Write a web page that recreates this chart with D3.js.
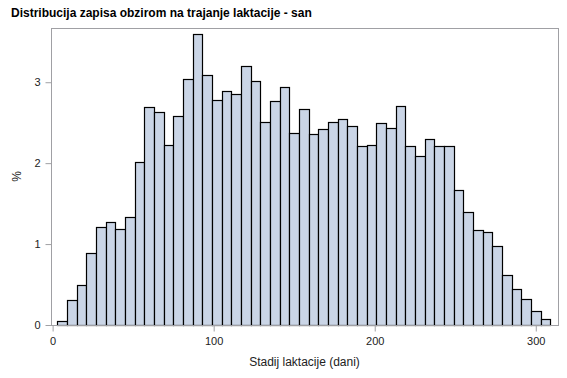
<!DOCTYPE html>
<html>
<head>
<meta charset="utf-8">
<script src="https://cdn.jsdelivr.net/npm/d3@7"></script>
<style>
  body { margin: 0; background: #fff; }
  text { font-family: "Liberation Sans", Arial, sans-serif; }
</style>
</head>
<body>
<script>
var titleText = 'Distribucija zapisa obzirom na trajanje laktacije - san';
var xLabel = 'Stadij laktacije (dani)';
var yLabel = '%';

// bin midpoints (days), bin width 6
var midpoints = [6, 12, 18, 24, 30, 36, 42, 48, 54, 60, 66, 72, 78, 84, 90, 96, 102, 108, 114, 120,
                 126, 132, 138, 144, 150, 156, 162, 168, 174, 180, 186, 192, 198, 204, 210, 216, 222,
                 228, 234, 240, 246, 252, 258, 264, 270, 276, 282, 288, 294, 300, 306];
var percents = [0.05, 0.31, 0.49, 0.89, 1.21, 1.27, 1.19, 1.33, 2.01, 2.69, 2.63, 2.22, 2.58, 3.04, 3.60,
                3.09, 2.78, 2.89, 2.85, 3.20, 3.02, 2.51, 2.77, 2.94, 2.37, 2.67, 2.36, 2.42, 2.51, 2.54,
                2.46, 2.21, 2.22, 2.49, 2.44, 2.70, 2.21, 2.09, 2.30, 2.21, 2.21, 1.67, 1.40, 1.17, 1.15,
                0.975, 0.62, 0.44, 0.32, 0.17, 0.07];
var binWidth = 6;
var xTicks = [0, 100, 200, 300];
var yTicks = [0, 1, 2, 3];

var screen = { width: 567, height: 378 };
var frame = { left: 51, right: 558, top: 28, bottom: 325 };

var svg = d3.select('body').append('svg')
            .attr('width', screen.width)
            .attr('height', screen.height);

var xScale = d3.scaleLinear()
               .domain([-1, 313.8])
               .range([frame.left, frame.right]);
var yScale = d3.scaleLinear()
               .domain([0, 3.67])
               .range([frame.bottom, frame.top]);

// bars
svg.append('g')
   .classed('bars', true)
   .selectAll('rect')
   .data(midpoints)
   .enter()
   .append('rect')
   .attr('x', function(d){ return Math.round(xScale(d - binWidth / 2)) + 0.5; })
   .attr('y', function(d, i){ return Math.round(yScale(percents[i])) + 0.5; })
   .attr('width', function(d){ return Math.round(xScale(d + binWidth / 2)) - Math.round(xScale(d - binWidth / 2)); })
   .attr('height', function(d, i){ return frame.bottom - Math.round(yScale(percents[i])); })
   .attr('fill', '#cad5e6')
   .attr('stroke', '#000')
   .attr('stroke-width', 1.2);

// frame
svg.append('rect')
   .attr('x', frame.left + 0.5)
   .attr('y', frame.top + 0.5)
   .attr('width', frame.right - frame.left)
   .attr('height', frame.bottom - frame.top)
   .attr('fill', 'none')
   .attr('stroke', '#a0a0a4')
   .attr('stroke-width', 1);

// axes
var xAxis = d3.axisBottom(xScale).tickValues(xTicks).tickFormat(d3.format('d'))
              .tickSizeInner(6).tickSizeOuter(0).tickPadding(6);
var yAxis = d3.axisLeft(yScale).tickValues(yTicks).tickFormat(d3.format('d'))
              .tickSizeInner(6).tickSizeOuter(0).tickPadding(5);

var gx = svg.append('g')
   .classed('xAxis', true)
   .attr('transform', 'translate(0,' + (frame.bottom + 0.5) + ')')
   .call(xAxis);
var gy = svg.append('g')
   .classed('yAxis', true)
   .attr('transform', 'translate(' + (frame.left + 0.5) + ',0)')
   .call(yAxis);

[gx, gy].forEach(function(g){
  g.select('.domain').remove();
  g.selectAll('line').attr('stroke', '#a0a0a4');
  g.selectAll('text')
   .attr('fill', '#222')
   .style('font-size', '11px')
   .style('font-family', '"Liberation Sans", Arial, sans-serif');
});

// labels
svg.append('text')
   .attr('x', 11)
   .attr('y', 17)
   .attr('font-size', '12px')
   .attr('font-weight', 'bold')
   .attr('fill', '#000')
   .text(titleText);

svg.append('text')
   .attr('x', (frame.left + frame.right) / 2)
   .attr('y', 366)
   .attr('text-anchor', 'middle')
   .attr('font-size', '12px')
   .attr('fill', '#222')
   .text(xLabel);

svg.append('text')
   .attr('transform', 'translate(21,' + ((frame.top + frame.bottom) / 2) + ') rotate(-90)')
   .attr('text-anchor', 'middle')
   .attr('font-size', '12px')
   .attr('fill', '#222')
   .text(yLabel);
</script>
</body>
</html>
